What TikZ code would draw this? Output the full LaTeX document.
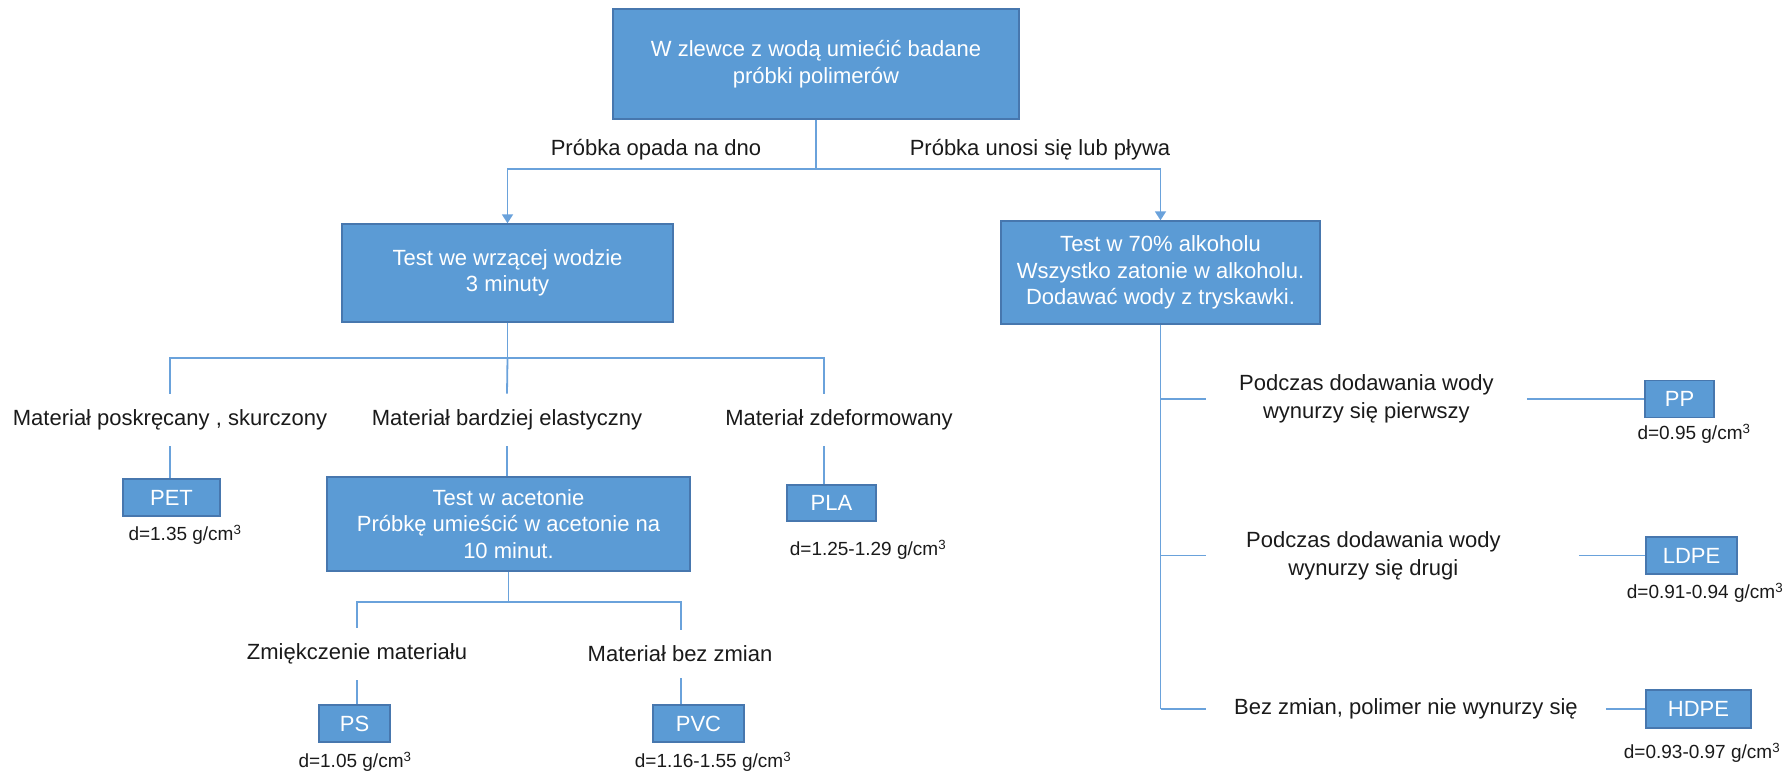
\documentclass[tikz,border=0pt]{standalone}
\usepackage{fontspec}
\setmainfont{Liberation Sans}
\usetikzlibrary{arrows.meta}
\definecolor{boxfill}{HTML}{5B9BD5}
\definecolor{boxline}{HTML}{4777AE}
\definecolor{conncol}{HTML}{6AA2DB}
\definecolor{txt}{HTML}{1A1A1A}
\begin{document}
\begin{tikzpicture}[x=1pt,y=-1pt,
  box/.style={draw=boxline, line width=1.4pt, fill=boxfill, text=white, align=center,
    font=\fontsize{22}{26.5}\selectfont, inner sep=0pt},
  lbl/.style={text=txt, align=center, font=\fontsize{22}{28}\selectfont, inner xsep=0pt, inner ysep=16pt},
  dlbl/.style={text=txt, font=\fontsize{19}{22}\selectfont, inner sep=0pt},
  conn/.style={draw=conncol, line width=1.8pt},
  arr/.style={conn, -{Triangle[width=11pt,length=9pt]}}]
\useasboundingbox (0,0) rectangle (1789,774);
% boxes
\node[box, minimum width=406pt, minimum height=110pt] (top) at (816,64) {W zlewce z wodą umiećić badane\\próbki polimerów};
\node[box, minimum width=331pt, minimum height=98pt] (b1) at (507.5,273) {Test we wrzącej wodzie\\3 minuty};
\node[box, minimum width=319pt, minimum height=103pt] (c) at (1160.5,272.5) {Test w 70\% alkoholu\\Wszystko zatonie w alkoholu.\\Dodawać wody z tryskawki.};
\node[box, minimum width=363pt, minimum height=94pt] (b2) at (508.5,524) {Test w acetonie\\Próbkę umieścić w acetonie na\\10 minut.};
\node[box, minimum width=97pt, minimum height=37pt] (pet) at (171.5,497.5) {PET};
\node[box, minimum width=89pt, minimum height=36pt] (pla) at (831.5,503) {PLA};
\node[box, minimum width=71pt, minimum height=37pt] (ps) at (354.5,723.5) {PS};
\node[box, minimum width=91pt, minimum height=37pt] (pvc) at (698.5,723.5) {PVC};
\node[box, minimum width=69pt, minimum height=37pt] (pp) at (1679.5,399) {PP};
\node[box, minimum width=91pt, minimum height=37pt] (ldpe) at (1691.5,555.5) {LDPE};
\node[box, minimum width=105pt, minimum height=38pt] (hdpe) at (1698.5,709) {HDPE};
% labels
\node[lbl] (lopada) at (656,150) {Próbka opada na dno};
\node[lbl] (lunosi) at (1040,150) {Próbka unosi się lub pływa};
\node[lbl] (m1) at (170,420) {Materiał poskręcany , skurczony};
\node[lbl] (m2) at (507,420) {Materiał bardziej elastyczny};
\node[lbl] (m3) at (839,420) {Materiał zdeformowany};
\node[lbl] (s1) at (357,654) {Zmiękczenie materiału};
\node[lbl] (s2) at (680,654) {Materiał bez zmian};
\node[lbl, anchor=west, inner xsep=33pt] (r1) at (1206,399) {Podczas dodawania wody\\wynurzy się pierwszy};
\node[lbl, anchor=west, inner xsep=40pt] (r2) at (1206,555.5) {Podczas dodawania wody\\wynurzy się drugi};
\node[lbl, anchor=west, inner xsep=28pt] (r3) at (1206,709) {Bez zmian, polimer nie wynurzy się};
% density labels
\node[dlbl] (dpet) at (185,535) {d=1.35 g/cm\textsuperscript{3}};
\node[dlbl] (dpla) at (868,550) {d=1.25-1.29 g/cm\textsuperscript{3}};
\node[dlbl] (dps) at (355,762) {d=1.05 g/cm\textsuperscript{3}};
\node[dlbl] (dpvc) at (713,762) {d=1.16-1.55 g/cm\textsuperscript{3}};
\node[dlbl] (dpp) at (1694,434) {d=0.95 g/cm\textsuperscript{3}};
\node[dlbl] (dldpe) at (1705,593) {d=0.91-0.94 g/cm\textsuperscript{3}};
\node[dlbl] (dhdpe) at (1702,753) {d=0.93-0.97 g/cm\textsuperscript{3}};
% junctions
\coordinate (j1) at (816,169);
\coordinate (j2) at (507.5,358);
\coordinate (t3) at (824,358);
\coordinate (j3) at (508.5,602);
\coordinate (u2) at (681,602);
\coordinate (k3) at (1160.5,709);
% connectors
\draw[conn] (top.south) -- (j1);
\draw[arr] (j1) -| (b1.north);
\draw[arr] (j1) -| (c.north);
\draw[conn] (b1.south) -- (j2);
\draw[conn] (j2) -| (m1.north);
\draw[conn] (j2) -- (m2.north);
\draw[conn] (j2) -- (t3) -- (t3 |- m3.north);
\draw[conn] (m1.south) -- (m1.south |- pet.north);
\draw[conn] (m2.south) -- (m2.south |- b2.north);
\draw[conn] (t3 |- m3.south) -- (t3 |- pla.north);
\draw[conn] (b2.south) -- (j3);
\draw[conn] (j3) -| (s1.north);
\draw[conn] (j3) -- (u2) -- (u2 |- s2.north);
\draw[conn] (s1.south) -- (s1.south |- ps.north);
\draw[conn] (u2 |- s2.south) -- (u2 |- pvc.north);
\draw[conn] (c.south) -- (k3);
\draw[conn] (c.south |- r1.west) -- (r1.west);
\draw[conn] (c.south |- r2.west) -- (r2.west);
\draw[conn] (k3) -- (r3.west);
\draw[conn] (r1.east) -- (r1.east -| pp.west);
\draw[conn] ([xshift=38pt]r2.east) -- (r2.east -| ldpe.west);
\draw[conn] (r3.east) -- (r3.east -| hdpe.west);
\end{tikzpicture}
\end{document}
